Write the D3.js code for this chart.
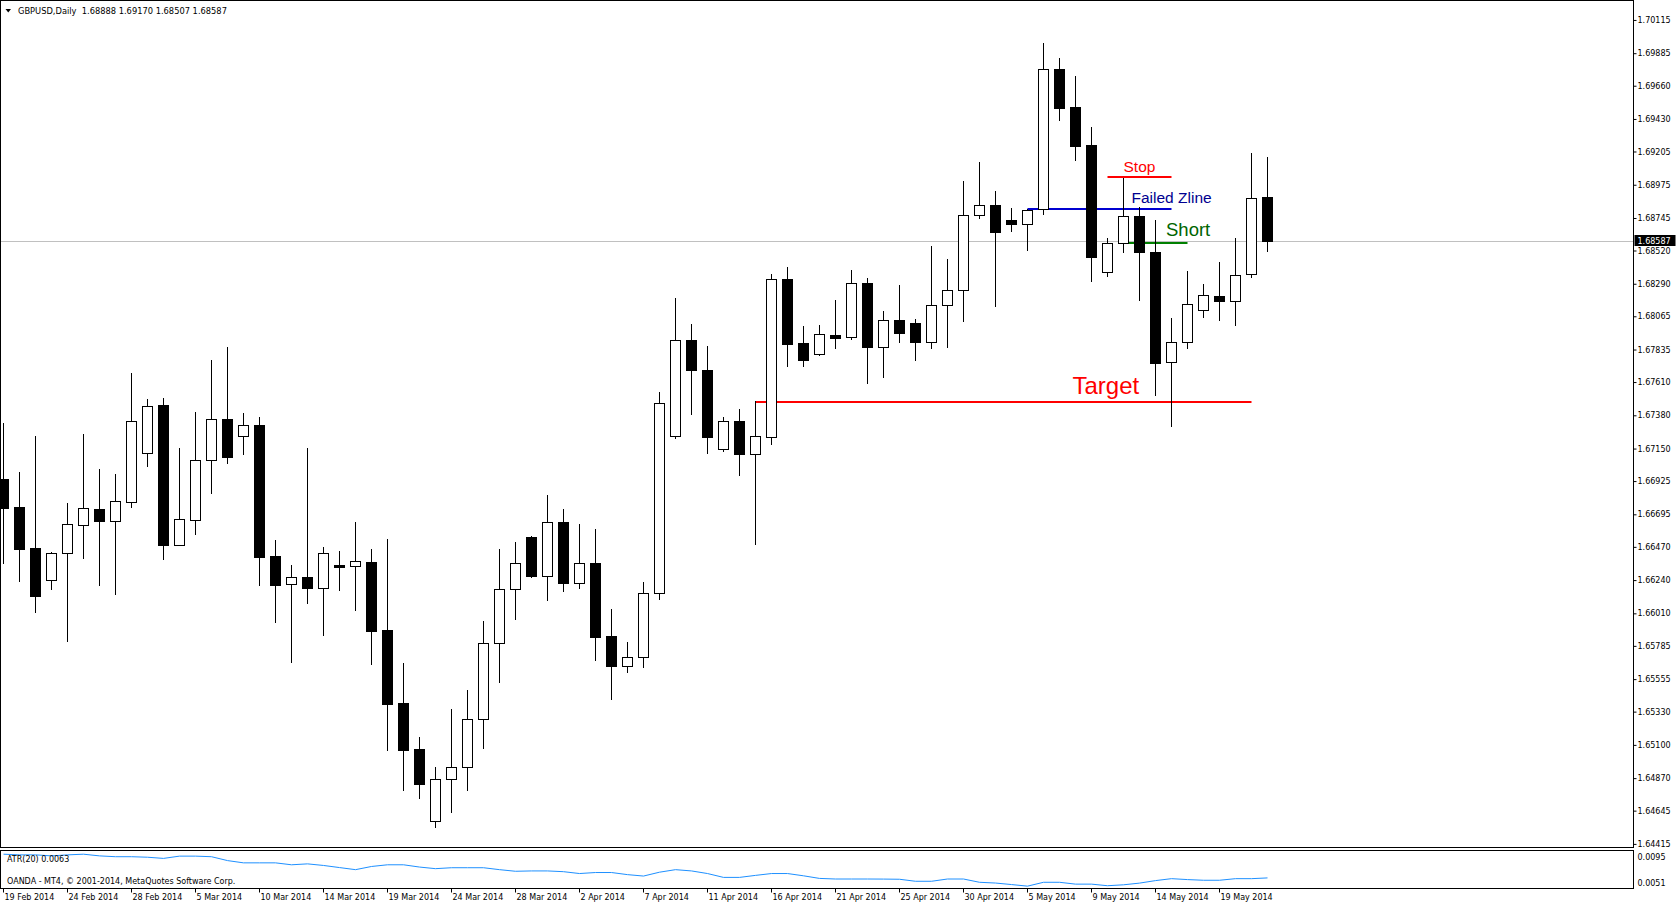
<!DOCTYPE html>
<html>
<head>
<meta charset="utf-8">
<script src="https://cdn.jsdelivr.net/npm/d3@7"></script>
<style>
body { margin: 0; background: #fff; }
svg text { font-family: Tahoma, "DejaVu Sans", sans-serif; white-space: pre; }
</style>
</head>
<body>
<svg id="chart" width="1676" height="906"></svg>
<script>
// GBPUSD daily bars, 19 Feb 2014 - 22 May 2014 (OANDA has Sunday bars)
var dates = [
  "2014-02-19","2014-02-20","2014-02-21","2014-02-23","2014-02-24","2014-02-25","2014-02-26","2014-02-27","2014-02-28",
  "2014-03-02","2014-03-03","2014-03-04","2014-03-05","2014-03-06","2014-03-07","2014-03-09","2014-03-10","2014-03-11",
  "2014-03-12","2014-03-13","2014-03-14","2014-03-16","2014-03-17","2014-03-18","2014-03-19","2014-03-20","2014-03-21",
  "2014-03-23","2014-03-24","2014-03-25","2014-03-26","2014-03-27","2014-03-28","2014-03-30","2014-03-31","2014-04-01",
  "2014-04-02","2014-04-03","2014-04-04","2014-04-06","2014-04-07","2014-04-08","2014-04-09","2014-04-10","2014-04-11",
  "2014-04-13","2014-04-14","2014-04-15","2014-04-16","2014-04-17","2014-04-18","2014-04-20","2014-04-21","2014-04-22",
  "2014-04-23","2014-04-24","2014-04-25","2014-04-27","2014-04-28","2014-04-29","2014-04-30","2014-05-01","2014-05-02",
  "2014-05-04","2014-05-05","2014-05-06","2014-05-07","2014-05-08","2014-05-09","2014-05-11","2014-05-12","2014-05-13",
  "2014-05-14","2014-05-15","2014-05-16","2014-05-18","2014-05-19","2014-05-20","2014-05-21","2014-05-22"
];

var opens = [
  1.66939,1.66744,1.66460,1.66239,1.66425,1.66619,1.66730,1.66651,1.66782,1.67117,
  1.67451,1.66485,1.66658,1.67069,1.67352,1.67235,1.67313,1.66407,1.66211,1.66259,
  1.66187,1.66344,1.66335,1.66365,1.65895,1.65390,1.65071,1.64571,1.64862,1.64945,
  1.65277,1.65803,1.66176,1.66538,1.66270,1.66640,1.66222,1.66358,1.65853,1.65648,
  1.65706,1.66149,1.67237,1.67901,1.67693,1.67149,1.67338,1.67112,1.67228,1.68321,
  1.67878,1.67806,1.67933,1.67920,1.68293,1.67855,1.68037,1.68019,1.67885,1.68141,
  1.68245,1.68764,1.68835,1.68729,1.68701,1.68805,1.69774,1.69513,1.69248,1.68369,
  1.68570,1.68757,1.68508,1.67747,1.67885,1.68106,1.68203,1.68169,1.68355,1.68888
];
var highs = [
  1.67329,1.66986,1.67237,1.66434,1.66771,1.67251,1.67009,1.66974,1.67673,1.67491,
  1.67500,1.67154,1.67403,1.67763,1.67853,1.67396,1.67368,1.66517,1.66344,1.67154,
  1.66469,1.66441,1.66642,1.66455,1.66524,1.65666,1.65154,1.64947,1.65348,1.65480,
  1.65957,1.66455,1.66503,1.66545,1.66829,1.66732,1.66628,1.66593,1.66040,1.65812,
  1.66227,1.67541,1.68191,1.68012,1.67857,1.67368,1.67424,1.67479,1.68357,1.68406,
  1.67998,1.68005,1.68178,1.68385,1.68330,1.68102,1.68281,1.68046,1.68551,1.68461,
  1.69001,1.69132,1.68932,1.68812,1.68807,1.69956,1.69852,1.69727,1.69372,1.68604,
  1.69024,1.68821,1.68731,1.68051,1.68378,1.68288,1.68438,1.68607,1.69193,1.69170
];
var lows = [
  1.66349,1.66229,1.66014,1.66174,1.65814,1.66386,1.66201,1.66137,1.66741,1.67024,
  1.66379,1.66476,1.66554,1.66838,1.67045,1.67107,1.66201,1.65945,1.65666,1.66077,
  1.65855,1.66167,1.66028,1.65653,1.65060,1.64783,1.64728,1.64527,1.64631,1.64783,
  1.65074,1.65530,1.65964,1.66254,1.66097,1.66160,1.66180,1.65680,1.65413,1.65599,
  1.65634,1.66104,1.67216,1.67382,1.67112,1.67126,1.66960,1.66483,1.67174,1.67716,
  1.67716,1.67792,1.67841,1.67903,1.67599,1.67640,1.67882,1.67758,1.67841,1.67848,
  1.68028,1.68740,1.68131,1.68650,1.68519,1.68766,1.69418,1.69141,1.68304,1.68339,
  1.68505,1.68173,1.67516,1.67297,1.67837,1.68055,1.68034,1.68000,1.68332,1.68507
];
var closes = [
  1.66741,1.66457,1.66132,1.66425,1.66626,1.66737,1.66651,1.66785,1.67341,1.67442,
  1.66485,1.66660,1.67071,1.67352,1.67094,1.67311,1.66402,1.66208,1.66259,1.66187,
  1.66425,1.66333,1.66370,1.65890,1.65385,1.65067,1.64831,1.64862,1.64945,1.65277,
  1.65803,1.66176,1.66356,1.66270,1.66640,1.66222,1.66356,1.65848,1.65648,1.65706,
  1.66149,1.67465,1.67901,1.67693,1.67228,1.67338,1.67112,1.67235,1.68321,1.67875,
  1.67765,1.67940,1.67917,1.68293,1.67855,1.68037,1.67951,1.67889,1.68141,1.68245,
  1.68764,1.68833,1.68646,1.68701,1.68798,1.69774,1.69508,1.69245,1.68477,1.68570,
  1.68757,1.68512,1.67740,1.67885,1.68148,1.68210,1.68169,1.68349,1.68881,1.68587
];

// ATR(20) sub-window
var atr = [
  0.00912,0.00904,0.00904,0.00892,0.00904,0.00912,0.00892,0.00882,0.00882,0.00876,
  0.00862,0.00889,0.00889,0.00882,0.00836,0.00809,0.00809,0.00809,0.00786,0.00797,
  0.00778,0.00753,0.00728,0.00766,0.00786,0.00786,0.00759,0.00740,0.00751,0.00751,
  0.00751,0.00728,0.00709,0.00713,0.00713,0.00704,0.00682,0.00694,0.00694,0.00669,
  0.00652,0.00698,0.00728,0.00713,0.00682,0.00636,0.00636,0.00660,0.00682,0.00682,
  0.00655,0.00624,0.00617,0.00617,0.00617,0.00616,0.00614,0.00590,0.00590,0.00617,
  0.00617,0.00578,0.00569,0.00551,0.00532,0.00578,0.00578,0.00556,0.00556,0.00537,
  0.00548,0.00568,0.00598,0.00621,0.00610,0.00602,0.00602,0.00621,0.00621,0.00630
];

var priceTicks = ["1.70115","1.69885","1.69660","1.69430","1.69205","1.68975","1.68745","1.68520",
  "1.68290","1.68065","1.67835","1.67610","1.67380","1.67150","1.66925","1.66695","1.66470",
  "1.66240","1.66010","1.65785","1.65555","1.65330","1.65100","1.64870","1.64645","1.64415"];
var atrTicks = ["0.0095","0.0051"];
var dateTicks = ["19 Feb 2014","24 Feb 2014","28 Feb 2014","5 Mar 2014","10 Mar 2014","14 Mar 2014",
  "19 Mar 2014","24 Mar 2014","28 Mar 2014","2 Apr 2014","7 Apr 2014","11 Apr 2014","16 Apr 2014",
  "21 Apr 2014","25 Apr 2014","30 Apr 2014","5 May 2014","9 May 2014","14 May 2014","19 May 2014"];

// drawn levels
var levelNames = ["Stop", "Failed Zline", "Short", "Target"];
var levelPrices = [1.69031, 1.68807, 1.68570, 1.67474];
var levelFrom = ["2014-05-11", "2014-05-05", "2014-05-12", "2014-04-15"];
var levelTo = ["2014-05-15", "2014-05-15", "2014-05-16", "2014-05-21"];

var header = "GBPUSD,Daily  1.68888 1.69170 1.68507 1.68587";
var footer = "OANDA - MT4, \u00a9 2001-2014, MetaQuotes Software Corp.";

// ---- layout
var plotRight = 1633.5,
    plotBottom = 847.5,
    atrTop = 850.5,
    atrBottom = 888.5;

var svg = d3.select("#chart");

var x = d3.scaleBand()
  .domain(dates)
  .range([-4.5, -4.5 + dates.length * 16]);
var cx = function(d) { return x(d) + x.bandwidth() / 2; };

var y = d3.scaleLinear()
  .domain([1.64415, 1.70115])
  .range([843.9, 19.95]);

var yAtr = d3.scaleLinear()
  .domain([0.0051, 0.0095])
  .range([888, 851]);

var bars = dates.map(function(d, i) {
  return { date: d, o: opens[i], h: highs[i], l: lows[i], c: closes[i] };
});

svg.append("rect").attr("width", 1676).attr("height", 906).attr("fill", "#fff");

var defs = svg.append("defs");
defs.append("clipPath").attr("id", "clipMain")
  .append("rect").attr("x", 1).attr("y", 1).attr("width", plotRight - 1.5).attr("height", plotBottom - 1.5);
defs.append("clipPath").attr("id", "clipAtr")
  .append("rect").attr("x", 1).attr("y", atrTop + 0.5).attr("width", plotRight - 1.5).attr("height", atrBottom - atrTop - 1);

var main = svg.append("g").attr("clip-path", "url(#clipMain)");

// current bid line
main.append("line")
  .attr("x1", 0).attr("x2", plotRight)
  .attr("y1", Math.round(y(closes[closes.length - 1])) + 0.5)
  .attr("y2", Math.round(y(closes[closes.length - 1])) + 0.5)
  .attr("stroke", "#c0c0c0").attr("stroke-width", 1);

// level lines (objects in background)
var levelStyle = [
  { line: "#ff0000", text: "#ff0000", size: 15.5, dx: 16, dy: -5 },
  { line: "#0000d0", text: "#000090", size: 15.5, dx: 104, dy: -5.7 },
  { line: "#008000", text: "#006400", size: 18.5, dx: 42.5, dy: -6.6 },
  { line: "#ff0000", text: "#ff0000", size: 24, dx: 317, dy: -7.7 }
];
levelNames.forEach(function(name, i) {
  var yy = Math.round(y(levelPrices[i]));
  main.append("line")
    .attr("x1", cx(levelFrom[i])).attr("x2", cx(levelTo[i]))
    .attr("y1", yy).attr("y2", yy)
    .attr("stroke", levelStyle[i].line).attr("stroke-width", 2);
  main.append("text")
    .attr("x", cx(levelFrom[i]) + levelStyle[i].dx)
    .attr("y", yy + levelStyle[i].dy)
    .attr("fill", levelStyle[i].text)
    .style("font-family", "'Liberation Sans', Arial, sans-serif")
    .style("font-size", levelStyle[i].size + "px")
    .text(name);
});

// wicks
main.selectAll(".wick")
  .data(bars)
  .enter()
  .append("line")
  .attr("class", "wick")
  .attr("x1", function(d) { return cx(d.date); })
  .attr("x2", function(d) { return cx(d.date); })
  .attr("y1", function(d) { return Math.round(y(d.h)); })
  .attr("y2", function(d) { return Math.round(y(d.l)); })
  .attr("stroke", "#000").attr("stroke-width", 1);

// bodies
main.selectAll(".body")
  .data(bars)
  .enter()
  .append("rect")
  .attr("class", "body")
  .attr("x", function(d) { return cx(d.date) - 5; })
  .attr("width", 10)
  .attr("y", function(d) { return Math.round(y(Math.max(d.o, d.c))) + 0.5; })
  .attr("height", function(d) { return Math.max(1, Math.round(y(Math.min(d.o, d.c))) - Math.round(y(Math.max(d.o, d.c)))); })
  .attr("fill", function(d) { return d.c < d.o ? "#000" : "#fff"; })
  .attr("stroke", "#000").attr("stroke-width", 1);

// ATR line
var atrLine = d3.line()
  .x(function(d, i) { return cx(dates[i]); })
  .y(function(d) { return yAtr(d); });
svg.append("g").attr("clip-path", "url(#clipAtr)")
  .append("path")
  .datum(atr)
  .attr("d", atrLine)
  .attr("fill", "none")
  .attr("stroke", "#1e90ff")
  .attr("stroke-width", 1);

// frames
svg.append("rect")
  .attr("x", 0.5).attr("y", 0.5)
  .attr("width", plotRight - 0.5).attr("height", plotBottom - 0.5)
  .attr("fill", "none").attr("stroke", "#000");
svg.append("rect")
  .attr("x", 0.5).attr("y", atrTop)
  .attr("width", plotRight - 0.5).attr("height", atrBottom - atrTop)
  .attr("fill", "none").attr("stroke", "#000");

// price axis
var yAxis = d3.axisRight(y)
  .tickValues(priceTicks.map(Number))
  .tickSize(3)
  .tickFormat(function(d, i) { return priceTicks[i]; });
var yAxisG = svg.append("g")
  .attr("transform", "translate(" + plotRight + ",0)")
  .call(yAxis);
yAxisG.select(".domain").remove();
yAxisG.selectAll("text")
  .attr("x", 4)
  .style("font-family", "Tahoma, 'DejaVu Sans', sans-serif")
  .style("font-size", "8px")
  .attr("fill", "#000");

// current price box
var lastY = y(closes[closes.length - 1]);
svg.append("rect")
  .attr("x", plotRight + 1).attr("y", Math.round(lastY) - 6)
  .attr("width", 41).attr("height", 11)
  .attr("fill", "#000");
svg.append("text")
  .attr("x", plotRight + 4).attr("y", Math.round(lastY) + 3)
  .attr("fill", "#fff")
  .style("font-size", "8px")
  .text(d3.format(".5f")(closes[closes.length - 1]));

// ATR axis labels (MT4 keeps them inside the window)
svg.selectAll(".atrTick")
  .data(atrTicks)
  .enter()
  .append("text")
  .attr("class", "atrTick")
  .attr("x", plotRight + 4)
  .attr("y", function(d, i) { return yAtr(+d) + (i === 0 ? 8.5 : -2.5); })
  .style("font-size", "8px")
  .text(function(d) { return d; });

// date axis
var fmt = d3.timeFormat("%-d %b %Y"), parse = d3.timeParse("%Y-%m-%d");
var tickDates = dates.filter(function(d) { return dateTicks.indexOf(fmt(parse(d))) >= 0; });
var xAxis = d3.axisBottom(x)
  .tickValues(tickDates)
  .tickSize(4)
  .tickFormat(function(d) { return fmt(parse(d)); });
var xAxisG = svg.append("g")
  .attr("transform", "translate(0," + atrBottom + ")")
  .call(xAxis);
xAxisG.select(".domain").remove();
xAxisG.selectAll("text")
  .attr("text-anchor", "start")
  .attr("x", 1)
  .attr("y", 6)
  .style("font-family", "Tahoma, 'DejaVu Sans', sans-serif")
  .style("font-size", "8px")
  .attr("fill", "#000");

// header and sub-window labels
svg.append("path").attr("d", "M5.5,9 L11,9 L8.25,12.5 Z").attr("fill", "#000");
svg.append("text").attr("x", 18).attr("y", 14).style("font-size", "8.3px").text(header);
svg.append("text").attr("x", 7).attr("y", 862).style("font-size", "8px")
  .text("ATR(20) " + d3.format(".4f")(atr[atr.length - 1]));
svg.append("text").attr("x", 7).attr("y", 884).style("font-size", "8px").text(footer);
</script>
</body>
</html>
